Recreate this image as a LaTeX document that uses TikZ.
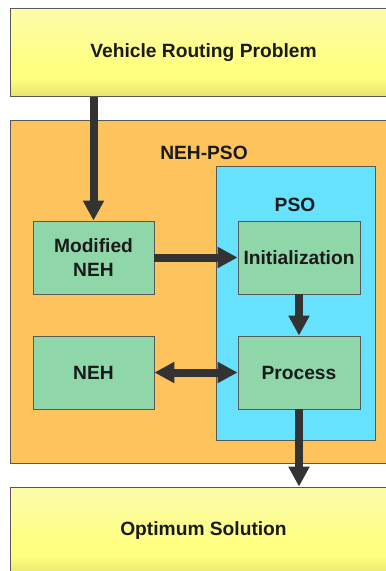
\documentclass[tikz,border=0pt]{standalone}
\usepackage{fontspec}
\setmainfont{Liberation Sans}
\usetikzlibrary{arrows.meta}

\definecolor{ytop}{RGB}{252,252,172}
\definecolor{ymid}{RGB}{255,255,128}
\definecolor{ylow}{RGB}{242,242,120}
\definecolor{ybot}{RGB}{228,228,110}
\definecolor{orangebg}{RGB}{253,195,92}
\definecolor{cyanbg}{RGB}{102,226,255}
\definecolor{greenbox}{RGB}{143,214,168}
\definecolor{edgegray}{RGB}{88,88,88}
\definecolor{arrowdark}{RGB}{51,51,51}
\definecolor{textdark}{RGB}{26,26,26}

% soft yellow gradient, brightest in the lower third
\pgfdeclareverticalshading{yellowband}{100bp}{%
  color(0bp)=(ybot); color(25bp)=(ybot); color(30bp)=(ylow);
  color(36bp)=(ymid); color(42bp)=(ymid); color(75bp)=(ytop); color(100bp)=(ytop)}

\tikzset{
  lbl/.style={font=\fontsize{19.2}{24}\selectfont\bfseries, text=textdark, align=center},
  panel/.style={rectangle, draw=edgegray, line width=0.8pt, inner sep=0pt},
  yellowpanel/.style={panel, shading=yellowband, lbl},
  stepbox/.style={panel, fill=greenbox, minimum width=121pt, minimum height=73pt, lbl},
  flow/.style={draw=arrowdark, line width=8pt,
    -{Triangle[width=20pt,length=20pt]}},
  bothways/.style={draw=arrowdark, line width=8pt,
    {Triangle[width=20pt,length=20pt]}-{Triangle[width=20pt,length=20pt]}}
}

\begin{document}
\begin{tikzpicture}[x=1pt,y=-1pt]
  \path[use as bounding box, clip] (0,0) rectangle (386,571);
  \fill[white] (0,0) rectangle (386,571);

  % top and bottom bands
  \node[yellowpanel, minimum width=387pt, minimum height=88.5pt] (vrp) at (203.5,52.25) {Vehicle Routing Problem};
  \node[yellowpanel, minimum width=387pt, minimum height=88pt] (opt) at (203.5,531) {Optimum Solution};

  % hybrid method container
  \node[panel, fill=orangebg, minimum width=387pt, minimum height=343pt] (hybrid) at (203.5,291.5) {};
  \node[lbl] (hybridlbl) at (204,153) {NEH-PSO};

  % PSO container
  \node[panel, fill=cyanbg, minimum width=159.5pt, minimum height=274pt] (pso) at (295.75,303) {};
  \node[lbl] (psolbl) at (295,205) {PSO};

  % steps
  \node[stepbox] (mneh) at (93.5,257.5) {Modified\\NEH};
  \node[stepbox, minimum width=122pt] (init) at (299,257.5) {Initialization};
  \node[stepbox] (neh) at (93.5,372.5) {NEH};
  \node[stepbox, minimum width=122pt] (proc) at (299,372.5) {Process};

  % connectors
  \draw[flow] (vrp.south -| mneh.north) -- (mneh.north);
  \draw[flow] (mneh.east) -- (init.west);
  \draw[flow] (init.south) -- (proc.north);
  \draw[bothways] (neh.east) -- (proc.west);
  \draw[flow] (proc.south) -- (opt.north -| proc.south);
\end{tikzpicture}
\end{document}
